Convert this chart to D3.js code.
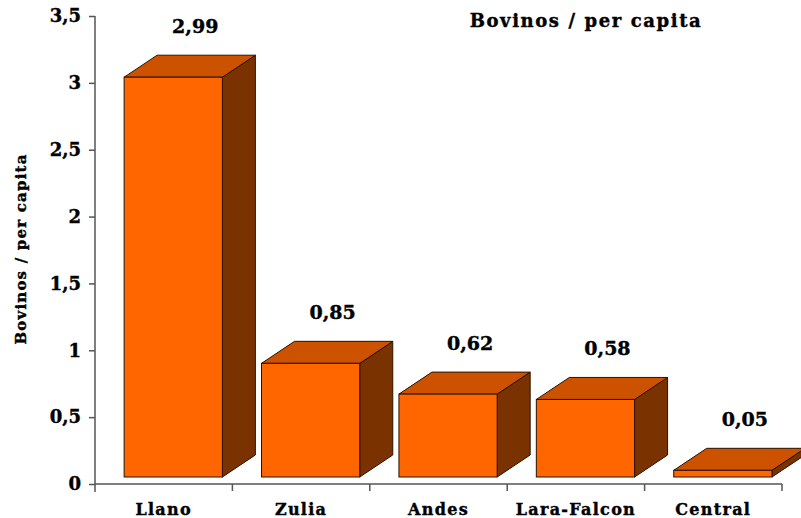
<!DOCTYPE html>
<html><head><meta charset="utf-8">
<script src="https://cdn.jsdelivr.net/npm/d3@7"></script>
<style>
html,body{margin:0;padding:0;background:#fff;overflow:hidden;}
svg{display:block;}
text{font-family:"DejaVu Serif","Liberation Serif",serif;font-weight:bold;fill:#000;stroke:#000;stroke-width:0.4px;}
</style></head>
<body>
<script>
const categories = ["Llano","Zulia","Andes","Lara-Falcon","Central"];
const values = [2.99,0.85,0.62,0.58,0.05];
const valueLabels = ["2,99","0,85","0,62","0,58","0,05"];
const yTicks = [0,0.5,1,1.5,2,2.5,3,3.5];
const yTickLabels = ["0","0,5","1","1,5","2","2,5","3","3,5"];
const title = "Bovinos / per capita";
const yTitle = "Bovinos / per capita";

const W = 801, H = 518;
const svg = d3.select("body").append("svg").attr("width", W).attr("height", H);

const x = d3.scaleBand().domain(categories).range([95, 782]).paddingInner(0).paddingOuter(0);
const y = d3.scaleLinear().domain([0, 3.5]).range([484, 16]);

const dx = 33, dy = -22, lift = 7;
const bw = x.bandwidth();

// bars
const g = svg.append("g");
categories.forEach((c, i) => {
  const x0 = x(c) + 0.212 * bw;
  const x1 = x0 + 0.715 * bw;
  const yt = y(values[i]) - lift;
  const yb = y(0) - lift;
  const stroke = "#2a1200";
  g.append("path")
    .attr("d", `M${x1},${yb}L${x1+dx},${yb+dy}L${x1+dx},${yt+dy}L${x1},${yt}Z`)
    .attr("fill", "#7a3300").attr("stroke", stroke).attr("stroke-width", 1);
  g.append("path")
    .attr("d", `M${x0},${yt}L${x0+dx},${yt+dy}L${x1+dx},${yt+dy}L${x1},${yt}Z`)
    .attr("fill", "#cc5200").attr("stroke", stroke).attr("stroke-width", 1);
  g.append("rect")
    .attr("x", x0).attr("y", yt).attr("width", x1 - x0).attr("height", yb - yt)
    .attr("fill", "#ff6600").attr("stroke", stroke).attr("stroke-width", 1);
  svg.append("text")
    .attr("x", (x0 + x1) / 2 + 22).attr("y", yt - 44)
    .attr("text-anchor", "middle").attr("font-size", 19)
    .text(valueLabels[i]);
});

// y axis
const yAxis = d3.axisLeft(y).tickValues(yTicks)
  .tickFormat((d, i) => yTickLabels[i]).tickSize(6).tickSizeOuter(0).tickPadding(8);
const ya = svg.append("g").attr("transform", "translate(95,0)").call(yAxis);
ya.select(".domain").attr("stroke", "#555").attr("stroke-width", 1.5).attr("d", "M0,16V492");
ya.selectAll(".tick line").attr("stroke", "#555").attr("stroke-width", 1.5);
ya.selectAll(".tick text").attr("font-size", 18).attr("font-family", "DejaVu Serif").attr("font-weight", "bold").attr("fill", "#000");

// x axis
const xa = svg.append("g").attr("transform", "translate(0,484)");
xa.append("line").attr("x1", 95).attr("x2", 782).attr("y1", 0).attr("y2", 0)
  .attr("stroke", "#555").attr("stroke-width", 1.5);
const bounds = categories.map(c => x(c) + bw);
xa.selectAll("line.tk").data(bounds).enter().append("line").attr("class", "tk")
  .attr("x1", d => d).attr("x2", d => d).attr("y1", 0).attr("y2", 7)
  .attr("stroke", "#555").attr("stroke-width", 1.5);
xa.selectAll("text.cat").data(categories).enter().append("text").attr("class", "cat")
  .attr("x", d => x(d) + bw / 2).attr("y", 31)
  .attr("text-anchor", "middle").attr("font-size", 16).attr("letter-spacing", 1.3)
  .text(d => d);

// titles
svg.append("text").attr("x", 586).attr("y", 27).attr("text-anchor", "middle")
  .attr("font-size", 18).attr("letter-spacing", 1.6).text(title);
svg.append("text").attr("transform", "translate(26,249) rotate(-90)")
  .attr("text-anchor", "middle").attr("font-size", 15).attr("letter-spacing", 1.2).text(yTitle);
</script>
</body></html>
